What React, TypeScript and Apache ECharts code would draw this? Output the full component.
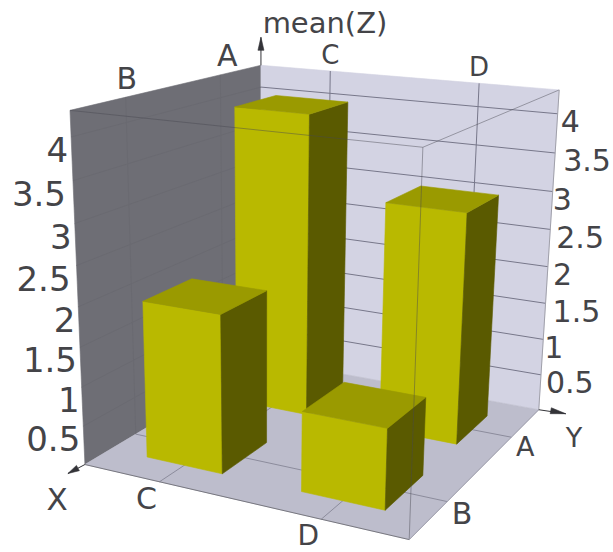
import React, { useEffect, useRef } from "react";
import * as echarts from "echarts";

const xCategories = ["C", "D"];
const yCategories = ["A", "B"];
const zTicks = [0.5, 1, 1.5, 2, 2.5, 3, 3.5, 4];
const zLabels = ["0.5", "1", "1.5", "2", "2.5", "3", "3.5", "4"];
const zMax = 4.3;
// [x index, y index, mean(Z)], back to front
const barValues = [
  [0, 0, 4],
  [1, 0, 3],
  [0, 1, 2],
  [1, 1, 1],
];

const W = 613;
const H = 552;
const BAR_U = 0.25;
const BAR_V = 0.25;
const FONT = "'DejaVu Sans'";
const TEXT = "#444448";

// Cube corners (u: C->D, v: back->front, w: floor->top) and where the camera puts them
const camera: number[][] = [
  [0, 1, 0, 85, 463],
  [1, 1, 0, 409, 541],
  [1, 0, 0, 539, 408],
  [0, 0, 0, 261, 361],
  [0, 1, 1, 70, 110],
  [1, 1, 1, 423, 148],
  [1, 0, 1, 559, 90],
  [0, 0, 1, 261, 65],
];

function fitCamera(pts: number[][]) {
  const n = 11;
  const A = Array.from({ length: n }, () => new Array(n + 1).fill(0));
  const add = (r: number[], b: number) => {
    for (let i = 0; i < n; i++) {
      for (let j = 0; j < n; j++) A[i][j] += r[i] * r[j];
      A[i][n] += r[i] * b;
    }
  };
  for (const [x, y, z, sx, sy] of pts) {
    add([x, y, z, 1, 0, 0, 0, 0, -sx * x, -sx * y, -sx * z], sx);
    add([0, 0, 0, 0, x, y, z, 1, -sy * x, -sy * y, -sy * z], sy);
  }
  for (let c = 0; c < n; c++) {
    let p = c;
    for (let r = c + 1; r < n; r++) if (Math.abs(A[r][c]) > Math.abs(A[p][c])) p = r;
    [A[c], A[p]] = [A[p], A[c]];
    for (let r = 0; r < n; r++) {
      if (r === c) continue;
      const f = A[r][c] / A[c][c];
      for (let k = c; k <= n; k++) A[r][k] -= f * A[c][k];
    }
  }
  return A.map((row, i) => row[n] / row[i]);
}

const m = fitCamera(camera);
const proj = (u: number, v: number, w: number): number[] => {
  const d = m[8] * u + m[9] * v + m[10] * w + 1;
  return [
    (m[0] * u + m[1] * v + m[2] * w + m[3]) / d,
    (m[4] * u + m[5] * v + m[6] * w + m[7]) / d,
  ];
};
const zw = (z: number) => z / zMax;
const slot = (i: number, count: number) => (i + 0.5) / count;

const poly = (pts: number[][], fill: string) => ({
  type: "polygon",
  silent: true,
  shape: { points: pts },
  style: { fill, stroke: fill, lineWidth: 0.6 },
});
const seg = (a: number[], b: number[], stroke: string, lineWidth = 1) => ({
  type: "line",
  silent: true,
  shape: { x1: a[0], y1: a[1], x2: b[0], y2: b[1] },
  style: { stroke, lineWidth },
});
const arrowHead = (tip: number[], base: number[], half: number, fill = "#333338") => {
  const dx = tip[0] - base[0];
  const dy = tip[1] - base[1];
  const l = Math.hypot(dx, dy);
  const nx = (-dy / l) * half;
  const ny = (dx / l) * half;
  return poly(
    [tip, [base[0] + nx, base[1] + ny], [base[0] - nx, base[1] - ny]],
    fill
  );
};

const GRID_BACK = "#77778a";
const GRID_FLOOR = "#8c8c9c";
const GRID_LEFT = "#6a6a71";
const WIRE = "rgba(70,70,80,0.45)";

function renderBox() {
  const c: any[] = [];
  c.push(poly([proj(0, 1, 0), proj(0, 0, 0), proj(0, 0, 1), proj(0, 1, 1)], "#6e6e75"));
  c.push(poly([proj(0, 0, 0), proj(1, 0, 0), proj(1, 0, 1), proj(0, 0, 1)], "#d3d3e3"));
  c.push(poly([proj(0, 1, 0), proj(1, 1, 0), proj(1, 0, 0), proj(0, 0, 0)], "#bdbdcc"));
  zTicks.forEach((z) => {
    const w = zw(z);
    c.push(seg(proj(0, 0, w), proj(1, 0, w), GRID_BACK));
    c.push(seg(proj(0, 0, w), proj(0, 1, w), GRID_LEFT));
  });
  xCategories.forEach((_, i) => {
    const u = slot(i, xCategories.length);
    c.push(seg(proj(u, 0, 0), proj(u, 0, 1), GRID_BACK));
    c.push(seg(proj(u, 0, 0), proj(u, 1, 0), GRID_FLOOR));
  });
  yCategories.forEach((_, i) => {
    const v = slot(i, yCategories.length);
    c.push(seg(proj(0, v, 0), proj(0, v, 1), GRID_LEFT));
    c.push(seg(proj(0, v, 0), proj(1, v, 0), GRID_FLOOR));
  });
  return { type: "group", children: c };
}

function renderBar(_: any, api: any) {
  const i = api.value(0);
  const j = api.value(1);
  const w = zw(api.value(2));
  const u = slot(i, xCategories.length);
  const v = slot(j, yCategories.length);
  const u0 = u - BAR_U / 2;
  const u1 = u + BAR_U / 2;
  const v0 = v - BAR_V / 2;
  const v1 = v + BAR_V / 2;
  return {
    type: "group",
    children: [
      poly([proj(u0, v1, 0), proj(u1, v1, 0), proj(u1, v1, w), proj(u0, v1, w)], "#b9b900"),
      poly([proj(u1, v1, 0), proj(u1, v0, 0), proj(u1, v0, w), proj(u1, v1, w)], "#5a5a00"),
      poly([proj(u0, v1, w), proj(u1, v1, w), proj(u1, v0, w), proj(u0, v0, w)], "#9a9a00"),
    ],
  };
}

function renderWire() {
  const f0 = proj(1, 1, 0);
  const ft = proj(1, 1, 1);
  const lf = proj(0, 1, 0);
  const rb = proj(1, 0, 0);
  const bt = proj(0, 0, 1);
  const zTip: number[] = [bt[0], bt[1] - 28];
  const xTip: number[] = [lf[0] - 17, lf[1] + 9];
  const yTip: number[] = [rb[0] + 27, rb[1] + 4];
  return {
    type: "group",
    children: [
      seg(proj(0, 1, 1), ft, WIRE),
      seg(ft, proj(1, 0, 1), WIRE),
      seg(ft, f0, WIRE),
      seg(lf, f0, "#77777f"),
      seg(f0, rb, "#9a9aa8"),
      seg(rb, proj(1, 0, 1), "#a0a0aa"),
      seg(bt, zTip, "#333338"),
      arrowHead(zTip, [zTip[0], zTip[1] + 13], 3),
      seg(lf, xTip, "#333338"),
      arrowHead(xTip, [xTip[0] + 10, xTip[1] - 5.5], 3),
      seg(rb, yTip, "#333338"),
      arrowHead(yTip, [yTip[0] - 15, yTip[1] - 3], 3),
    ],
  };
}

// Text placement offsets from the projected anchor
const leftDx = [-3, -2, -3, -3, -6, -3, -7, -3];
const rightDx = [5, 1, 7, 5, 6, 0, 8, 3];
const leftSize = 34;
const rightSize = 30;

function texts() {
  const out: any[] = [];
  const t = (
    s: string,
    x: number,
    y: number,
    size: number,
    align: string = "center"
  ) => ({
    type: "text",
    silent: true,
    x,
    y,
    style: {
      text: s,
      fontFamily: FONT,
      fontSize: size,
      fill: TEXT,
      align,
      verticalAlign: "middle",
    },
  });
  zTicks.forEach((z, i) => {
    const l = proj(0, 1, zw(z));
    out.push(t(zLabels[i], l[0] + leftDx[i], l[1] + 13, leftSize, "right"));
    const r = proj(1, 0, zw(z));
    out.push(t(zLabels[i], r[0] + rightDx[i], r[1] + 8, rightSize, "left"));
  });
  const frontDy = [17, 16];
  const frontSize = [30, 28];
  xCategories.forEach((s, i) => {
    const u = slot(i, xCategories.length);
    const a = proj(u, 1, 0);
    out.push(t(s, a[0] - 13, a[1] + frontDy[i], frontSize[i]));
    const b = proj(u, 0, 1);
    out.push(t(s, b[0], b[1] - 16, 26));
  });
  const sideDx = [14, 15];
  const sideDy = [9, 12];
  const wallDx = [7, 1];
  yCategories.forEach((s, i) => {
    const v = slot(i, yCategories.length);
    const a = proj(1, v, 0);
    out.push(t(s, a[0] + sideDx[i], a[1] + sideDy[i], i ? 30 : 27));
    const b = proj(0, v, 1);
    out.push(t(s, b[0] + wallDx[i], b[1] - 19, 30));
  });
  out.push(t("mean(Z)", 325, 23, 29));
  out.push(t("X", 57, 499, 31));
  out.push(t("Y", 574, 437, 27));
  return out;
}

export default function App() {
  const ref = useRef<HTMLDivElement>(null);
  useEffect(() => {
    const chart = echarts.init(ref.current!, null, { renderer: "svg" });
    chart.setOption({
      animation: false,
      backgroundColor: "#ffffff",
      graphic: { elements: texts() },
      series: [
        {
          type: "custom",
          coordinateSystem: "none",
          silent: true,
          z: 1,
          data: [[0]],
          renderItem: renderBox,
        },
        {
          type: "custom",
          coordinateSystem: "none",
          silent: true,
          z: 2,
          encode: { value: [0, 1, 2] },
          data: barValues,
          renderItem: renderBar,
        },
        {
          type: "custom",
          coordinateSystem: "none",
          silent: true,
          z: 3,
          data: [[0]],
          renderItem: renderWire,
        },
      ],
    });
    return () => chart.dispose();
  }, []);
  return (
    <div
      ref={ref}
      style={{ position: "fixed", left: 0, top: 0, width: W, height: H }}
    />
  );
}
